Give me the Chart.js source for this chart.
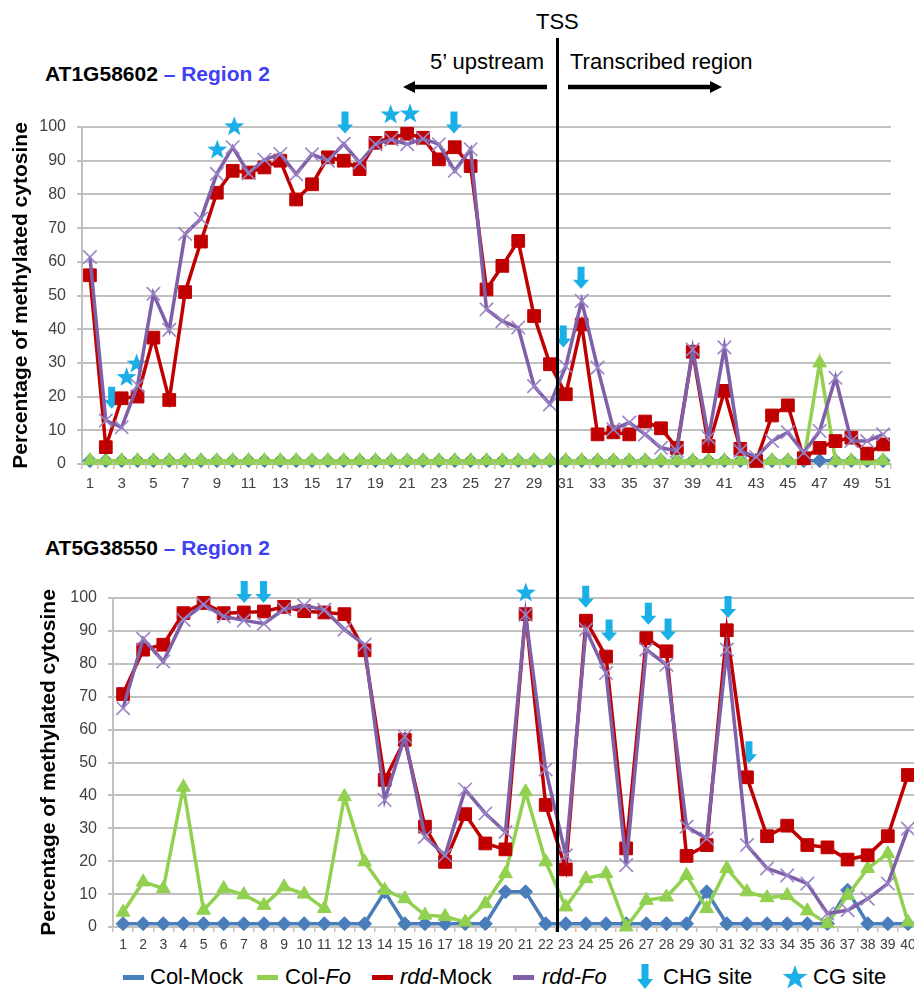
<!DOCTYPE html>
<html>
<head>
<meta charset="utf-8">
<script src="https://cdn.jsdelivr.net/npm/chart.js@4.4.1/dist/chart.umd.min.js"></script>
<style>
  html, body { margin: 0; padding: 0; background: #fff; overflow: hidden; }
  body { width: 914px; height: 990px; position: relative; font-family: "Liberation Sans", Arial, sans-serif; color: #000; }
  .abs { position: absolute; white-space: nowrap; }
  .hdr { font-size: 22px; line-height: 26px; }
  .gene { font-size: 21px; line-height: 24px; font-weight: bold; }
  .gene span { color: #3f3ff5; }
  .leg { font-size: 22px; line-height: 26px; top: 964px; }
  .swatch { position: absolute; top: 975px; height: 5px; width: 21px; }
  canvas { position: absolute; left: 0; }
</style>
</head>
<body>

<canvas id="topChart" width="914" height="400" style="top:100px"></canvas>
<canvas id="bottomChart" width="930" height="400" style="top:560px"></canvas>

<!-- en-tête -->
<div class="abs hdr" style="left:536px; top:9px;">TSS</div>
<div class="abs hdr" style="left:430px; top:49px;">5’ upstream</div>
<div class="abs hdr" style="left:570px; top:49px;">Transcribed region</div>
<svg class="abs" style="left:400px; top:78px;" width="330" height="20">
  <line x1="12" y1="9" x2="147" y2="9" stroke="#000" stroke-width="4.5"/>
  <polygon points="3,9 15,3 15,15" fill="#000"/>
  <line x1="168" y1="9" x2="311" y2="9" stroke="#000" stroke-width="4.5"/>
  <polygon points="322,9 310,3 310,15" fill="#000"/>
</svg>
<div class="abs" style="left:556px; top:38px; width:3px; height:894px; background:#000;"></div>

<div class="abs gene" style="left:45px; top:62px;">AT1G58602 <span>– Region 2</span></div>
<div class="abs gene" style="left:45px; top:536px;">AT5G38550 <span>– Region 2</span></div>

<!-- légende -->
<div class="swatch" style="left:123px; background:#4a7ebb;"></div>
<div class="abs leg" style="left:150px;">Col-Mock</div>
<div class="swatch" style="left:257px; background:#92d050;"></div>
<div class="abs leg" style="left:285px;">Col-<i>Fo</i></div>
<div class="swatch" style="left:372px; background:#c00000;"></div>
<div class="abs leg" style="left:400px;"><i>rdd</i>-Mock</div>
<div class="swatch" style="left:513px; background:#7f60a8;"></div>
<div class="abs leg" style="left:542px;"><i>rdd-Fo</i></div>
<svg class="abs" style="left:636px; top:964px;" width="18" height="26">
  <polygon points="5.5,0 12.5,0 12.5,15 17,15 9,25 1,15 5.5,15" fill="#1aafe6"/>
</svg>
<div class="abs leg" style="left:663px;">CHG site</div>
<svg class="abs" style="left:782px; top:964px;" width="26" height="26">
  <polygon id="legStar" fill="#1aafe6"/>
</svg>
<div class="abs leg" style="left:813px;">CG site</div>

<script>
// ---- données : région 2 de AT1G58602 (haut) ----
const topCats = Array.from({ length: 51 }, (_, i) => String(i + 1));
const topColMock = [1,1,1,1,1,1,1,1,1,1,1,1,1,1,1,1,1,1,1,1,1,1,1,1,1,1,1,1,1,1,1,1,1,1,1,1,1,1,1,1,1,1,1,1,1,1,1,1,1,1,1];
const topColFo   = [1,1,1,1,1,1,1,1,1,1,1,1,1,1,1,1,1,1,1,1,1,1,1,1,1,1,1,1,1,1,1,1,1,1,1,1,1,1,1,1,1,1,1,1,1,1,30,1,1,1,1];
const topRddMock = [56, 5, 19.5, 20, 37.5, 19, 51, 66, 80.5, 87, 86.5, 88, 90, 78.5, 83, 91, 90, 87.5, 95.3, 96.8,
                    98, 96.8, 90.4, 94, 88.4, 51.8, 58.8, 66.2, 43.9, 29.6, 20.7, 41.4, 8.8, 9.4, 8.8, 12.6, 10.6, 4.8, 33.3, 5.3,
                    21.7, 4.5, 0.9, 14.4, 17.4, 1.7, 4.8, 6.8, 7.8, 3.1, 5.8];
const topRddFo   = [61.4, 12.9, 10.9, 23.3, 50.5, 39.8, 68.3, 72.8, 86.1, 94, 86.3, 90.3, 92, 86, 91.9, 90, 95, 89.4, 94.9, 96.3,
                    94.9, 96.5, 94.9, 87, 93.4, 45.9, 42.4, 40.5, 23.1, 17.7, 29, 48.4, 28.6, 10.3, 12.3, 8.8, 4.8, 3.9, 34, 7.8,
                    34.6, 3.9, 2.1, 6.8, 9.4, 3.4, 9.8, 25.6, 6.8, 6.8, 8.8];
// [position de catégorie, valeur] des sites
const topChg = [[2.37, 16.4], [17.08, 98.1], [23.95, 98.1], [30.84, 34.6], [31.96, 52]];
const topCg  = [[3.31, 25.7], [3.94, 29.7], [9.03, 93.2], [10.1, 100.1], [19.96, 103.6], [21.18, 103.9]];

// ---- données : région 2 de AT5G38550 (bas) ----
const botCats = Array.from({ length: 40 }, (_, i) => String(i + 1));
const botColMock = [1,1,1,1,1,1,1,1,1,1,1,1,1,10.7,1,1,1,1,1,10.7,10.7,1,1,1,1,1,1,1,1,10.7,1,1,1,1,1,1,11.2,1,1,1];
const botColFo   = [4.5, 13.7, 11.7, 42.5, 5.1, 11.7, 9.8, 6.6, 12.2, 10, 5.6, 39.6, 19.8, 11.2, 8.6, 3.6, 3.2, 1.5, 7.1, 16.2,
                    41.1, 19.8, 6.1, 14.7, 16.2, 0, 8.1, 9.1, 15.7, 5.6, 17.8, 10.7, 8.9, 9.6, 4.9, 1, 9.6, 17.8, 22.3, 1.5];
const botRddMock = [70.8, 84.3, 85.8, 95.4, 98.5, 95.4, 95.6, 95.9, 97.3, 96, 95.6, 95.1, 84.1, 44.7, 56.9, 30.5, 19.8, 34.3, 25.4, 23.6,
                    95.1, 37.1, 17.5, 93.1, 82.2, 23.9, 87.8, 83.8, 21.6, 24.9, 90.2, 45.5, 27.6, 30.8, 24.9, 24.2, 20.5, 21.8, 27.6, 46.2];
const botRddFo   = [66.5, 87.6, 80.7, 93.4, 98, 94.4, 93.2, 92.2, 96.6, 97.7, 96.4, 90.4, 85.8, 38.6, 57.9, 27.4, 21.8, 41.8, 34.5, 28.9,
                    94.9, 47.9, 21.8, 90.4, 77.2, 18.8, 84.3, 79.7, 30.5, 26.9, 84.3, 24.9, 17.8, 15.7, 13.2, 4.1, 5.1, 8.6, 13.2, 29.9];
const botChg = [[7.02, 98.5], [7.98, 98.5], [23.99, 97], [25.15, 86.8], [27.1, 91.9], [28.08, 87.1], [31.06, 93.9], [32.1, 49.8]];
const botCg  = [[21.01, 101.5]];

const yTicks = [0, 10, 20, 30, 40, 50, 60, 70, 80, 90, 100];
const yTitle = 'Percentage of methylated cytosine';

const SITE_BLUE = '#1aafe6';
const GRID = '#c0c0c0';

function starPath(ctx, cx, cy, ro, ri) {
    ctx.beginPath();
    for (let i = 0; i < 10; i++) {
        const r = i % 2 ? ri : ro;
        const a = -Math.PI / 2 + i * Math.PI / 5;
        const px = cx + r * Math.cos(a), py = cy + r * Math.sin(a);
        i ? ctx.lineTo(px, py) : ctx.moveTo(px, py);
    }
    ctx.closePath();
}

function arrowPath(ctx, x, tip) {
    ctx.beginPath();
    ctx.moveTo(x - 3.5, tip - 22);
    ctx.lineTo(x + 3.5, tip - 22);
    ctx.lineTo(x + 3.5, tip - 9);
    ctx.lineTo(x + 8, tip - 9);
    ctx.lineTo(x, tip);
    ctx.lineTo(x - 8, tip - 9);
    ctx.lineTo(x - 3.5, tip - 9);
    ctx.closePath();
}

// flèches CHG et étoiles CG, placées via les échelles
const sitesPlugin = {
    id: 'sites',
    beforeDatasetsDraw(chart, args, opts) {
        const { ctx, scales: { x, y } } = chart;
        ctx.save();
        ctx.fillStyle = SITE_BLUE;
        opts.chg.forEach(([c, v]) => {
            arrowPath(ctx, x.getPixelForValue(c - 1), y.getPixelForValue(v));
            ctx.fill();
        });
        opts.cg.forEach(([c, v]) => {
            starPath(ctx, x.getPixelForValue(c - 1), y.getPixelForValue(v), 10.5, 4.3);
            ctx.fill();
        });
        ctx.restore();
    }
};

function makeDatasets(colMock, colFo, rddMock, rddFo) {
    const base = { tension: 0, borderWidth: 3.5, clip: false, pointBorderWidth: 1 };
    return [
        { ...base, label: 'rdd-Fo', data: rddFo, order: 0, borderColor: '#7f60a8',
          pointStyle: 'crossRot', pointRadius: 9.5, pointBorderColor: '#9a84c6', pointBorderWidth: 1.6 },
        { ...base, label: 'rdd-Mock', data: rddMock, order: 1, borderColor: '#c00000',
          pointStyle: 'rect', pointRadius: 9, pointBackgroundColor: '#c00000', pointBorderColor: '#c00000' },
        { ...base, label: 'Col-Fo', data: colFo, order: 2, borderColor: '#92d050',
          pointStyle: 'triangle', pointRadius: 8, pointBackgroundColor: '#92d050', pointBorderColor: '#92d050' },
        { ...base, label: 'Col-Mock', data: colMock, order: 3, borderColor: '#4a7ebb',
          pointStyle: 'rectRot', pointRadius: 7, pointBackgroundColor: '#4a7ebb', pointBorderColor: '#4a7ebb' }
    ];
}

function makeChart(id, cats, datasets, cfg) {
    return new Chart(document.getElementById(id), {
        type: 'line',
        data: { labels: cats, datasets: datasets },
        plugins: [sitesPlugin],
        options: {
            responsive: false,
            animation: false,
            events: [],
            layout: { padding: { top: cfg.padTop, right: cfg.padRight, left: 0, bottom: 0 } },
            plugins: {
                legend: { display: false },
                tooltip: { enabled: false },
                sites: { chg: cfg.chg, cg: cfg.cg }
            },
            scales: {
                x: {
                    offset: true,
                    afterFit: (s) => { s.height = cfg.xHeight; },
                    grid: { offset: true, drawOnChartArea: false, drawTicks: true, tickLength: 5, color: GRID, lineWidth: 1.5 },
                    border: { display: true, color: GRID, width: 2 },
                    ticks: {
                        autoSkip: false, maxRotation: 0, minRotation: 0,
                        padding: cfg.xPad,
                        color: '#404040',
                        font: { family: cfg.xFamily, size: cfg.xSize },
                        callback: function (val, idx) {
                            return idx % cfg.xEvery === 0 ? this.getLabelForValue(val) : '';
                        }
                    }
                },
                y: {
                    min: 0, max: 100,
                    afterFit: (s) => { s.width = cfg.yWidth; },
                    afterBuildTicks: (s) => { s.ticks = yTicks.map(v => ({ value: v })); },
                    grid: { color: GRID, lineWidth: 2, drawTicks: true, tickLength: 5 },
                    border: { display: true, color: GRID, width: 2 },
                    ticks: {
                        padding: 11,
                        color: '#404040',
                        font: { family: 'Liberation Sans', size: cfg.ySize }
                    },
                    title: {
                        display: true,
                        text: yTitle,
                        color: '#000',
                        padding: { top: cfg.titlePad, bottom: 0 },
                        font: { family: 'Liberation Sans', size: 21, weight: 'bold' }
                    }
                }
            }
        }
    });
}

document.addEventListener('DOMContentLoaded', () => {
    // étoile de la légende
    const pts = [];
    for (let i = 0; i < 10; i++) {
        const r = i % 2 ? 5.2 : 13;
        const a = -Math.PI / 2 + i * Math.PI / 5;
        pts.push((13 + r * Math.cos(a)).toFixed(1) + ',' + (14 + r * Math.sin(a)).toFixed(1));
    }
    document.getElementById('legStar').setAttribute('points', pts.join(' '));

    makeChart('topChart', topCats, makeDatasets(topColMock, topColFo, topRddMock, topRddFo), {
        padTop: 27, padRight: 23, xHeight: 36, yWidth: 82, titlePad: 9,
        xPad: 6, xSize: 15, xFamily: 'Liberation Sans', xEvery: 2, ySize: 16,
        chg: topChg, cg: topCg
    });

    makeChart('bottomChart', botCats, makeDatasets(botColMock, botColFo, botRddMock, botRddFo), {
        padTop: 38, padRight: 12, xHeight: 33, yWidth: 113, titlePad: 37,
        xPad: 5, xSize: 14, xFamily: '"Liberation Sans Narrow", "Liberation Sans"', xEvery: 1, ySize: 16,
        chg: botChg, cg: botCg
    });
});
</script>
</body>
</html>
